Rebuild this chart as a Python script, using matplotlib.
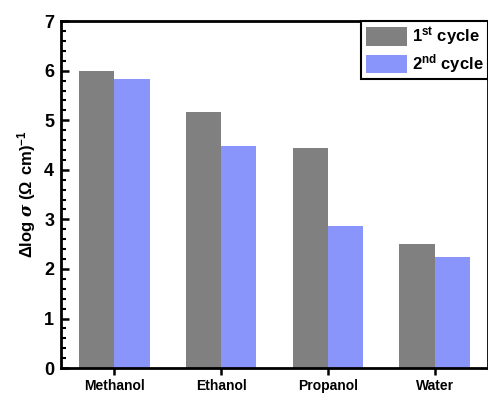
import numpy as np
import matplotlib
matplotlib.use("Agg")
from matplotlib import pyplot as plt
from matplotlib.ticker import MultipleLocator

plt.rcParams['font.family'] = ['Liberation Sans', 'DejaVu Sans']
plt.rcParams['font.weight'] = 'bold'
plt.rcParams['mathtext.fontset'] = 'custom'
plt.rcParams['mathtext.rm'] = 'Liberation Sans:bold'
plt.rcParams['mathtext.it'] = 'DejaVu Serif:italic'
plt.rcParams['mathtext.bf'] = 'Liberation Sans:bold'

### Conductivity change per solvent, two cycles

solvents = ['Methanol', 'Ethanol', 'Propanol', 'Water']
cycle1 = [5.99, 5.16, 4.44, 2.51]
cycle2 = [5.84, 4.49, 2.87, 2.25]
seriesNames = ['1$^{\\mathrm{st}}$ cycle', '2$^{\\mathrm{nd}}$ cycle']

x = np.arange(len(solvents))
width = 0.33

fig = plt.figure(figsize=(4.89, 3.98), dpi=100)
ax = fig.add_axes([0.125, 0.075, 0.873, 0.872])

ax.bar(x - width/2, cycle1, width, color='#808080', label=seriesNames[0])
ax.bar(x + width/2, cycle2, width, color='#8a95fc', label=seriesNames[1])

ax.set_xlim(-0.5, 3.5)
ax.set_ylim(0, 7)
ax.set_xticks(x)
ax.set_xticklabels(solvents, fontsize=10, fontweight='bold')
ax.yaxis.set_major_locator(MultipleLocator(1))
ax.yaxis.set_minor_locator(MultipleLocator(0.2))
ax.tick_params(axis='y', which='major', direction='in', length=6, width=1.8, labelsize=13, pad=5)
ax.tick_params(axis='y', which='minor', direction='in', length=3.5, width=1.5)
ax.tick_params(axis='x', which='major', direction='out', length=5, width=1.8, pad=3)
for lbl in ax.get_yticklabels():
    lbl.set_fontweight('bold')
for s in ax.spines.values():
    s.set_linewidth(2)

ax.set_ylabel('$\\mathrm{\\Delta log}$ $\\sigma$ $\\mathrm{(\\Omega\\ cm)}^{-1}$', fontsize=12, labelpad=4)

leg = ax.legend(loc='upper right', borderaxespad=0, fancybox=False, edgecolor='black',
                handlelength=2.5, handleheight=1.3, handletextpad=0.3, labelspacing=0.25,
                borderpad=0.25, prop={'size': 12, 'weight': 'bold'})
leg.get_frame().set_linewidth(1.5)
leg.get_frame().set_alpha(1)

fig.savefig('out.png', dpi=100)
